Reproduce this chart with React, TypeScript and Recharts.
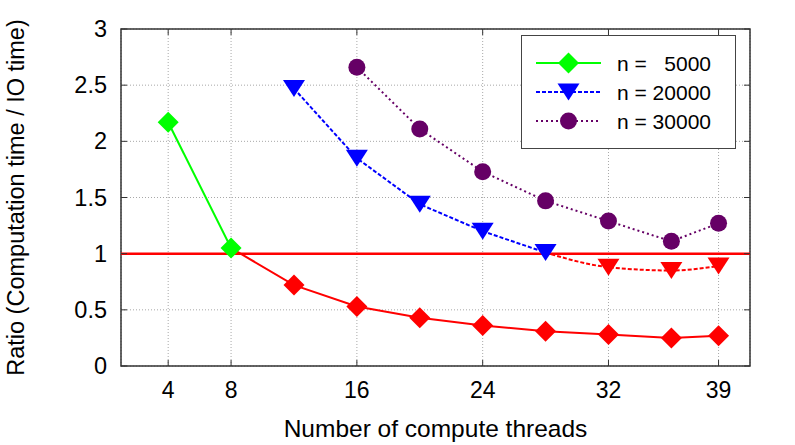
import React from "react";
import {
  ComposedChart,
  Line,
  XAxis,
  YAxis,
  CartesianGrid,
  ReferenceLine,
  ReferenceArea,
} from "recharts";

const threads = [4, 8, 12, 16, 20, 24, 28, 32, 36, 39];
// n = 5000, split at ratio 1 (green above, red below)
const n5000Above = [2.17, 1.05, null, null, null, null, null, null, null, null];
const n5000Below = [null, 1.05, 0.72, 0.53, 0.43, 0.36, 0.31, 0.28, 0.25, 0.27];
// n = 20000
const n20000Above = [null, null, 2.47, 1.85, 1.44, 1.2, 1.01, null, null, null];
const n20000Below = [null, null, null, null, null, null, 1.01, 0.88, 0.85, 0.89];
// n = 30000
const n30000 = [null, null, null, 2.66, 2.11, 1.73, 1.47, 1.29, 1.11, 1.27];

const xTicks = [4, 8, 16, 24, 32, 39];
const yTicks = [0, 0.5, 1, 1.5, 2, 2.5, 3];

const data = threads.map((x, i) => ({
  x,
  a5: n5000Above[i],
  b5: n5000Below[i],
  a20: n20000Above[i],
  b20: n20000Below[i],
  n30: n30000[i],
}));

const FONT = "'Liberation Sans', Arial, Helvetica, sans-serif";
const GREEN = "#00ff00";
const RED = "#ff0000";
const BLUE = "#0000ff";
const PURPLE = "#660066";

// plot box (used only for the small inner tick marks)
const PLOT = { left: 121, right: 750, top: 29, bottom: 366 };

function Diamond({ cx, cy, fill }: any) {
  if (cx == null || cy == null) return null;
  const s = 10.5;
  return (
    <polygon
      points={`${cx},${cy - s} ${cx + s},${cy} ${cx},${cy + s} ${cx - s},${cy}`}
      fill={fill}
    />
  );
}

function TriDown({ cx, cy, fill }: any) {
  if (cx == null || cy == null) return null;
  return (
    <polygon
      points={`${cx - 11},${cy - 8.5} ${cx + 11},${cy - 8.5} ${cx},${cy + 8.5}`}
      fill={fill}
    />
  );
}

function Dot({ cx, cy, fill }: any) {
  if (cx == null || cy == null) return null;
  return <circle cx={cx} cy={cy} r={8.5} fill={fill} />;
}

// skip the marker where the red part joins the coloured part
const dotUnless = (Shape: any, fill: string, skipX: number) => (p: any) => {
  if (p.value == null || p.payload.x === skipX) return <g key={p.index} />;
  return <Shape key={p.index} cx={p.cx} cy={p.cy} fill={fill} />;
};
const dotAll = (Shape: any, fill: string) => (p: any) => {
  if (p.value == null) return <g key={p.index} />;
  return <Shape key={p.index} cx={p.cx} cy={p.cy} fill={fill} />;
};

function XTick({ x, payload }: any) {
  return (
    <g>
      <line x1={x} x2={x} y1={PLOT.bottom} y2={PLOT.bottom - 6} stroke="#333" />
      <line x1={x} x2={x} y1={PLOT.top} y2={PLOT.top + 6} stroke="#333" />
      <text x={x} y={PLOT.bottom + 32} textAnchor="middle" fontSize={23} fontFamily={FONT} fill="#000">
        {payload.value}
      </text>
    </g>
  );
}

function YTick({ y, payload }: any) {
  return (
    <g>
      <line x1={PLOT.left} x2={PLOT.left + 6} y1={y} y2={y} stroke="#333" />
      <line x1={PLOT.right} x2={PLOT.right - 6} y1={y} y2={y} stroke="#333" />
      <text x={PLOT.left - 14} y={y + 8} textAnchor="end" fontSize={23.5} fontFamily={FONT} fill="#000">
        {payload.value}
      </text>
    </g>
  );
}

const legendItems = [
  { label: "n =   5000", color: GREEN, dash: undefined, Shape: Diamond },
  { label: "n = 20000", color: BLUE, dash: "4 2", Shape: TriDown },
  { label: "n = 30000", color: PURPLE, dash: "2 3", Shape: Dot },
];

function LegendBox() {
  return (
    <svg width={215} height={114} style={{ display: "block" }}>
      <rect x={0.5} y={0.5} width={214} height={113} fill="#fff" stroke="#444" strokeWidth={1} />
      {legendItems.map((it, i) => {
        const cy = 28 + i * 29;
        return (
          <g key={it.label}>
            <line x1={15} x2={80} y1={cy} y2={cy} stroke={it.color} strokeWidth={2} strokeDasharray={it.dash} />
            <it.Shape cx={47.5} cy={cy} fill={it.color} />
            <text
              x={190}
              y={cy + 7.5}
              textAnchor="end"
              fontSize={21}
              fontFamily={FONT}
              fill="#000"
              style={{ whiteSpace: "pre" }}
            >
              {it.label}
            </text>
          </g>
        );
      })}
    </svg>
  );
}

export default function App() {
  return (
    <div style={{ width: 795, height: 445, background: "#fff", position: "relative" }}>
      <style>{`body{margin:0}`}</style>
      <ComposedChart
        width={795}
        height={445}
        data={data}
        margin={{ top: 29, right: 45, bottom: 38, left: 41 }}
      >
        <CartesianGrid stroke="#a8a8a8" strokeDasharray="1 2" />
        <XAxis
          dataKey="x"
          type="number"
          domain={[1, 41]}
          ticks={xTicks}
          interval={0}
          height={41}
          axisLine={false}
          tickLine={false}
          tick={<XTick />}
          label={{
            value: "Number of compute threads",
            position: "insideBottom",
            offset: -30,
            fontSize: 24.5,
            fontFamily: FONT,
            fill: "#000",
          }}
        />
        <YAxis
          type="number"
          domain={[0, 3]}
          ticks={yTicks}
          interval={0}
          width={80}
          axisLine={false}
          tickLine={false}
          tick={<YTick />}
          label={{
            value: "Ratio (Computation time / IO time)",
            angle: -90,
            position: "insideLeft",
            offset: -25,
            fontSize: 23.5,
            fontFamily: FONT,
            fill: "#000",
            style: { textAnchor: "middle" },
          }}
        />
        <ReferenceArea x1={1} x2={41} y1={0} y2={3} fill="none" stroke="#333" strokeWidth={1.5} />
        <ReferenceLine y={1} stroke={RED} strokeWidth={2.5} />
        <Line
          dataKey="b5"
          stroke={RED}
          strokeWidth={2}
          dot={dotUnless(Diamond, RED, 8)}
          activeDot={false}
          isAnimationActive={false}
        />
        <Line
          type="monotone"
          dataKey="b20"
          stroke={RED}
          strokeWidth={2}
          strokeDasharray="4 2"
          dot={dotUnless(TriDown, RED, 28)}
          activeDot={false}
          isAnimationActive={false}
        />
        <Line
          dataKey="a5"
          stroke={GREEN}
          strokeWidth={2}
          dot={dotAll(Diamond, GREEN)}
          activeDot={false}
          isAnimationActive={false}
        />
        <Line
          dataKey="a20"
          stroke={BLUE}
          strokeWidth={2}
          strokeDasharray="4 2"
          dot={dotAll(TriDown, BLUE)}
          activeDot={false}
          isAnimationActive={false}
        />
        <Line
          dataKey="n30"
          stroke={PURPLE}
          strokeWidth={2}
          strokeDasharray="2 3"
          dot={dotAll(Dot, PURPLE)}
          activeDot={false}
          isAnimationActive={false}
        />
      </ComposedChart>
      <div style={{ position: "absolute", top: 35, left: 521 }}>
        <LegendBox />
      </div>
    </div>
  );
}
